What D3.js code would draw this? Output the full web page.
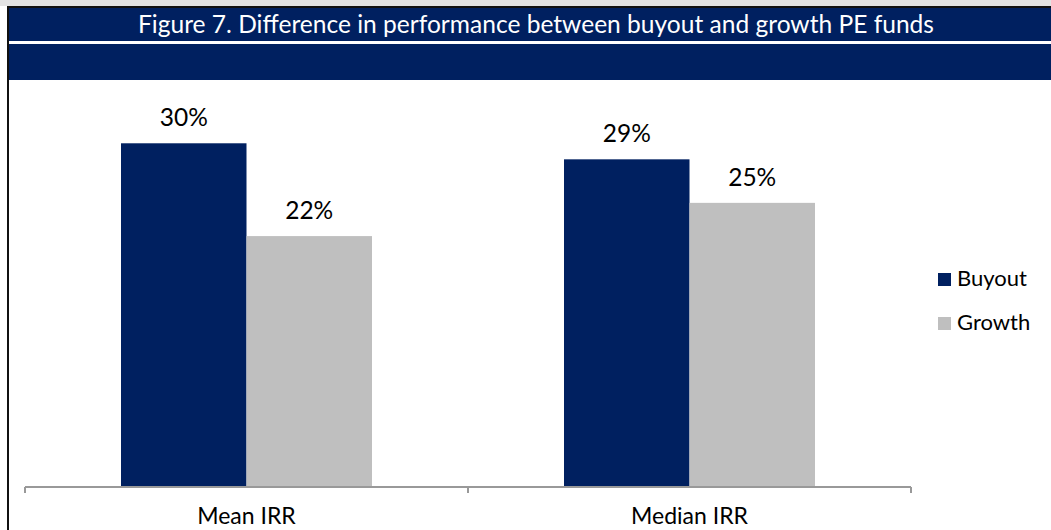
<!DOCTYPE html>
<html>
<head>
<meta charset="utf-8">
<script src="https://cdn.jsdelivr.net/npm/d3@7"></script>
<style>
  body { margin: 0; background: #fff; }
  svg text { font-family: Lato, "Open Sans", sans-serif; }
</style>
</head>
<body>
<svg id="chart" width="1051" height="530"></svg>
<script>
var titleText = "Figure 7. Difference in performance between buyout and growth PE funds";
var categories = ["Mean IRR", "Median IRR"];
var seriesNames = ["Buyout", "Growth"];
var buyoutValues = [0.300, 0.286];
var growthValues = [0.219, 0.248];
var colors = ["#002060", "#bfbfbf"];

var svg = d3.select("#chart");
var W = 1051, H = 530;

// frame and header bands
svg.append("rect").attr("x", 0).attr("y", 0).attr("width", W).attr("height", 6).attr("fill", "#e3e3e3");
svg.append("rect").attr("x", 7).attr("y", 6).attr("width", W - 7).attr("height", 2).attr("fill", "#111");
svg.append("rect").attr("x", 7).attr("y", 6).attr("width", 2).attr("height", H - 6).attr("fill", "#111");
svg.append("rect").attr("x", 9).attr("y", 8).attr("width", W - 9).attr("height", 33).attr("fill", "#002060");
svg.append("rect").attr("x", 9).attr("y", 44).attr("width", W - 9).attr("height", 36).attr("fill", "#002060");

// title, stretched to the width of the original
svg.append("text")
    .attr("x", 536).attr("y", 33)
    .attr("text-anchor", "middle")
    .attr("fill", "#fff")
    .style("font-size", "25px")
    .attr("textLength", 796).attr("lengthAdjust", "spacingAndGlyphs")
    .text(titleText);

// scales
var x0 = d3.scaleBand().domain(categories).range([25, 911]);
var x1 = d3.scaleBand().domain(seriesNames).range([0, x0.bandwidth()]).paddingOuter(0.765);
var y = d3.scaleLinear().domain([0, 0.35]).range([487, 86]);

var rows = categories.map(function(c, i) {
  return { cat: c, vals: [
    { name: seriesNames[0], v: buyoutValues[i] },
    { name: seriesNames[1], v: growthValues[i] }
  ]};
});

var groups = svg.selectAll("g.grp")
    .data(rows)
  .enter().append("g")
    .attr("class", "grp")
    .attr("transform", function(d) { return "translate(" + x0(d.cat) + ",0)"; });

groups.selectAll("rect")
    .data(function(d) { return d.vals; })
  .enter().append("rect")
    .attr("x", function(d) { return x1(d.name); })
    .attr("y", function(d) { return y(d.v); })
    .attr("width", x1.bandwidth())
    .attr("height", function(d) { return y(0) - y(d.v); })
    .attr("fill", function(d, i) { return colors[i]; });

groups.selectAll("text.lbl")
    .data(function(d) { return d.vals; })
  .enter().append("text")
    .attr("class", "lbl")
    .attr("x", function(d) { return x1(d.name) + x1.bandwidth() / 2; })
    .attr("y", function(d) { return y(d.v) - 17; })
    .attr("text-anchor", "middle")
    .attr("fill", "#000")
    .style("font-size", "24.5px")
    .text(function(d) { return d3.format(".0%")(d.v); });

// x axis
var axis = svg.append("g")
    .attr("transform", "translate(0,487)")
    .call(d3.axisBottom(x0).tickSize(0).tickFormat(""));
axis.select(".domain").attr("stroke", "#999").attr("stroke-width", 2).attr("d", "M25,0H911");

var tickPos = [25].concat(categories.map(function(c) { return x0(c) + x0.bandwidth(); }));
axis.selectAll("line.tk")
    .data(tickPos)
  .enter().append("line")
    .attr("class", "tk")
    .attr("x1", function(d) { return d; }).attr("x2", function(d) { return d; })
    .attr("y1", 0).attr("y2", 6)
    .attr("stroke", "#999").attr("stroke-width", 2);

svg.selectAll("text.cat")
    .data(categories)
  .enter().append("text")
    .attr("class", "cat")
    .attr("x", function(d) { return x0(d) + x0.bandwidth() / 2; })
    .attr("y", 524)
    .attr("text-anchor", "middle")
    .style("font-size", "23px")
    .text(function(d) { return d; });

// legend
var legend = svg.selectAll("g.leg")
    .data(seriesNames)
  .enter().append("g")
    .attr("class", "leg")
    .attr("transform", function(d, i) { return "translate(938," + (273 + i * 44) + ")"; });
legend.append("rect").attr("width", 13).attr("height", 13)
    .attr("fill", function(d, i) { return colors[i]; });
legend.append("text").attr("x", 19).attr("y", 13)
    .style("font-size", "22px")
    .text(function(d) { return d; });
</script>
</body>
</html>
